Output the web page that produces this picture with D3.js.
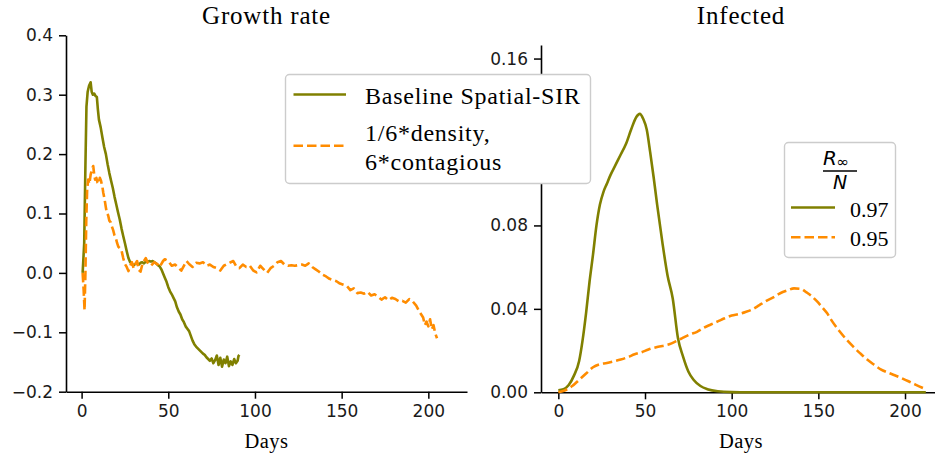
<!DOCTYPE html>
<html><head><meta charset="utf-8">
<script src="https://cdn.jsdelivr.net/npm/d3@7"></script>
<style>
body{margin:0;background:#fff;}
svg{display:block;}
</style></head>
<body>
<svg id="chart" width="935" height="456"></svg>
<script>
// ---------- data ----------
const growthBaselineDays = [0.6,1.5,2.2,2.8,3.5,4.3,5.2,5.8,6.5,7.3,8.0,8.8,9.4,10,11,12,13,14,15,16,17,18,19,20,21,22,23,24,25,26,27,28,29,30,31,32,33,34,35,36,37,38,39,40,41,42,43,44,45,46,47,48,49,50,51,52,53,54,55,56,57,58,59,60,61,62,63,64,65,66,67,68,69,70,71,72,73,74,75,76,77,78,79,80,81,82,83,84,85,86,87,88,89,90,90.5,91];
const growthBaseline = [0.0,0.05,0.18,0.28,0.305,0.315,0.321,0.305,0.30,0.302,0.298,0.296,0.275,0.258,0.245,0.228,0.212,0.2,0.183,0.168,0.155,0.143,0.128,0.115,0.102,0.09,0.075,0.062,0.05,0.037,0.025,0.018,0.015,0.013,0.015,0.016,0.014,0.017,0.018,0.016,0.019,0.018,0.02,0.019,0.02,0.018,0.016,0.013,0.011,0.006,-0.001,-0.008,-0.015,-0.024,-0.031,-0.036,-0.042,-0.048,-0.058,-0.065,-0.07,-0.078,-0.083,-0.09,-0.094,-0.098,-0.106,-0.114,-0.12,-0.124,-0.127,-0.13,-0.133,-0.136,-0.138,-0.142,-0.145,-0.148,-0.144,-0.152,-0.147,-0.139,-0.155,-0.143,-0.158,-0.146,-0.152,-0.141,-0.157,-0.149,-0.155,-0.145,-0.152,-0.148,-0.14,-0.138];

const growthSparseDays = [0.6,1.2,1.7,2.2,2.7,3.2,3.8,4.5,5.2,6.0,6.7,7.3,7.8,8.5,9.2,9.8,10.5,11.2,12.0,12.5,13.2,14.0,14.6,15.3,16.0,16.8,17.5,18.2,19.0,19.8,20.5,21.2,22,23,24,25,26,27,28,29,30,31,32,33,34,35,36,37,38,39,40,42,44,45,47,48,50,52,54,56,57.5,59,60.5,62,64,66,68,70,72,74,76,78,80,82,84,86,87.5,89,91,93,95,97,99,101,103,105,107,109,111,113,115,117,119,121,123,125,127,129,131,133,135,137,139,141,143,145,147,149,151,153,155,157,159,161,163,165,167,169,171,173,175,177,179,181,183,185,187,189,191,193,195,197,198,199,200,201,202,203,204,205];
const growthSparse = [0.0,-0.03,-0.063,0.0,0.09,0.14,0.157,0.15,0.165,0.175,0.18,0.165,0.157,0.16,0.152,0.15,0.16,0.155,0.145,0.135,0.125,0.11,0.1,0.097,0.088,0.085,0.078,0.072,0.063,0.058,0.05,0.044,0.042,0.038,0.025,0.015,0.01,0.003,0.012,0.018,0.008,0.015,0.02,0.005,0.002,0.014,0.02,0.025,0.018,0.015,0.012,0.018,0.014,0.01,0.02,0.023,0.02,0.012,0.014,0.008,0.004,0.012,0.02,0.015,0.01,0.017,0.016,0.018,0.012,0.014,0.01,0.008,0.004,0.012,0.015,0.018,0.02,0.012,0.008,0.014,0.01,0.012,0.004,0.001,0.012,0.006,0.0,0.008,0.012,0.018,0.02,0.014,0.012,0.013,0.012,0.013,0.014,0.012,0.016,0.01,0.006,0.002,-0.003,-0.006,-0.01,-0.012,-0.014,-0.018,-0.02,-0.022,-0.029,-0.026,-0.034,-0.033,-0.035,-0.032,-0.038,-0.036,-0.04,-0.045,-0.041,-0.046,-0.042,-0.044,-0.048,-0.047,-0.05,-0.044,-0.048,-0.055,-0.066,-0.075,-0.088,-0.082,-0.09,-0.078,-0.095,-0.088,-0.102,-0.11];

const infectedBaselineDays = [0,3,6,9,12,14,16,18,20,22,24,26,28,30,33,36,39,42,45,47,49,51,53,55,57,60,63,66,69,72,75,78,82,86,92,100,110,212];
const infectedBaseline = [0.001,0.0015,0.0035,0.008,0.015,0.025,0.038,0.053,0.066,0.08,0.09,0.096,0.1,0.104,0.109,0.114,0.119,0.126,0.132,0.1335,0.131,0.126,0.115,0.103,0.09,0.072,0.056,0.045,0.026,0.017,0.01,0.006,0.003,0.0015,0.0005,0.0001,0,0];

const infectedSparseDays = [0,4,8,12,16,20,24,28,32,36,40,44,48,52,56,60,64,68,72,76,80,84,88,92,96,100,104,108,112,116,120,124,128,132,136,140,143,146,149,152,155,158,162,166,170,174,178,182,186,190,194,198,202,206,210,212];
const infectedSparse = [0.0,0.001,0.003,0.006,0.009,0.012,0.0135,0.014,0.0148,0.0157,0.0168,0.0182,0.0192,0.0205,0.0215,0.0222,0.023,0.0245,0.0262,0.0278,0.029,0.031,0.0325,0.034,0.0355,0.0368,0.0375,0.0385,0.0398,0.0418,0.0438,0.0455,0.0475,0.0488,0.0498,0.0496,0.048,0.0462,0.0438,0.041,0.038,0.034,0.0295,0.0255,0.022,0.0188,0.0158,0.0133,0.011,0.0095,0.0082,0.0068,0.0053,0.0037,0.0022,0.0015];

const growthTicksX = [0,50,100,150,200];
const growthTicksY = [-0.2,-0.1,0.0,0.1,0.2,0.3,0.4];
const infectedTicksX = [0,50,100,150,200];
const infectedTicksY = [0.00,0.04,0.08,0.12,0.16];

const seriesNames = ["Baseline Spatial-SIR", ["1/6*density,", "6*contagious"]];
const finalRatios = ["0.97", "0.95"];
const colors = ["#808000", "#ff8c00"];

// ---------- drawing ----------
const svg = d3.select("#chart");
const serif = "'Liberation Serif', 'Times New Roman', serif";
const sans = "'DejaVu Sans', sans-serif";
const LW = 2.6;
const DASH = "9.5,4";

function styleAxis(g){
  g.select(".domain").attr("stroke","#000").attr("stroke-width",1.6);
  g.selectAll(".tick line").attr("stroke","#000").attr("stroke-width",1.5);
  g.selectAll(".tick text").attr("font-family",sans).attr("font-size",17).attr("fill","#1a1a1a");
}

// Left panel: growth rate
const xL = d3.scaleLinear().domain([-9, 222.3]).range([66, 467]);
const yL = d3.scaleLinear().domain([-0.2, 0.4]).range([391.7, 35.3]);

const gL = svg.append("g");
gL.append("g").attr("transform","translate(0,391.7)")
  .call(d3.axisBottom(xL).tickValues(growthTicksX).tickSize(7).tickPadding(6).tickSizeOuter(0))
  .call(styleAxis);
gL.append("g").attr("transform","translate(66,0)")
  .call(d3.axisLeft(yL).tickValues(growthTicksY).tickFormat(d3.format(".1f")).tickSize(7).tickPadding(6).tickSizeOuter(0))
  .call(styleAxis);

const lineL = d3.line().x(d=>xL(d[0])).y(d=>yL(d[1]));
gL.append("path").datum(growthBaselineDays.map((d,i)=>[d,growthBaseline[i]]))
  .attr("d",lineL).attr("fill","none").attr("stroke",colors[0]).attr("stroke-width",LW).attr("stroke-linejoin","round");
gL.append("path").datum(growthSparseDays.map((d,i)=>[d,growthSparse[i]]))
  .attr("d",lineL).attr("fill","none").attr("stroke",colors[1]).attr("stroke-width",LW).attr("stroke-dasharray",DASH).attr("stroke-linejoin","round");

gL.append("text").attr("x",266.5).attr("y",24).attr("text-anchor","middle")
  .attr("font-family",serif).attr("font-size",25).attr("letter-spacing",0.8).text("Growth rate");
gL.append("text").attr("x",266.5).attr("y",448.3).attr("text-anchor","middle")
  .attr("font-family",serif).attr("font-size",20.5).attr("letter-spacing",0.5).text("Days");

// Right panel: infected
const xR = d3.scaleLinear().domain([-10, 217.3]).range([541, 935]);
const yR = d3.scaleLinear().domain([0, 0.1665]).range([392.3, 45]);

const gR = svg.append("g");
gR.append("g").attr("transform","translate(0,392.3)")
  .call(d3.axisBottom(xR).tickValues(infectedTicksX).tickSize(7).tickPadding(6).tickSizeOuter(0))
  .call(styleAxis);
gR.append("g").attr("transform","translate(541,0)")
  .call(d3.axisLeft(yR).tickValues(infectedTicksY).tickFormat(d3.format(".2f")).tickSize(7).tickPadding(6).tickSizeOuter(0))
  .call(styleAxis);

const lineR = d3.line().x(d=>xR(d[0])).y(d=>yR(d[1])).curve(d3.curveMonotoneX);
gR.append("path").datum(infectedBaselineDays.map((d,i)=>[d,infectedBaseline[i]]))
  .attr("d",lineR).attr("fill","none").attr("stroke",colors[0]).attr("stroke-width",LW);
gR.append("path").datum(infectedSparseDays.map((d,i)=>[d,infectedSparse[i]]))
  .attr("d",lineR).attr("fill","none").attr("stroke",colors[1]).attr("stroke-width",LW).attr("stroke-dasharray",DASH);

gR.append("text").attr("x",741).attr("y",24).attr("text-anchor","middle")
  .attr("font-family",serif).attr("font-size",25).attr("letter-spacing",0.8).text("Infected");
gR.append("text").attr("x",741).attr("y",448.3).attr("text-anchor","middle")
  .attr("font-family",serif).attr("font-size",20.5).attr("letter-spacing",0.5).text("Days");

// Left legend (drawn on top of right panel)
const lg = svg.append("g");
lg.append("rect").attr("x",285.5).attr("y",74.5).attr("width",305).attr("height",109).attr("rx",4)
  .attr("fill","#fff").attr("stroke","#cccccc").attr("stroke-width",1.4);
lg.append("line").attr("x1",293.5).attr("x2",346).attr("y1",94.5).attr("y2",94.5)
  .attr("stroke",colors[0]).attr("stroke-width",LW);
lg.append("text").attr("x",365).attr("y",104.3).attr("font-family",serif).attr("font-size",24)
  .attr("letter-spacing",0.75).text(seriesNames[0]);
lg.append("line").attr("x1",293.5).attr("x2",346).attr("y1",145.7).attr("y2",145.7)
  .attr("stroke",colors[1]).attr("stroke-width",LW).attr("stroke-dasharray",DASH);
lg.append("text").attr("x",365).attr("y",140.7).attr("font-family",serif).attr("font-size",24)
  .attr("letter-spacing",0.75).text(seriesNames[1][0]);
lg.append("text").attr("x",365).attr("y",169.5).attr("font-family",serif).attr("font-size",24)
  .attr("letter-spacing",0.75).text(seriesNames[1][1]);

// Right legend
const rg = svg.append("g");
rg.append("rect").attr("x",784.5).attr("y",142.5).attr("width",111).attr("height",115).attr("rx",4)
  .attr("fill","#fff").attr("stroke","#cccccc").attr("stroke-width",1.4);
const rt = rg.append("text").attr("x",823).attr("y",165).attr("font-family",sans).attr("font-style","italic").attr("font-size",20);
rt.append("tspan").text("R");
rt.append("tspan").attr("font-style","normal").attr("font-size",15).attr("dy",2).attr("dx",-0.5).text("∞");
rg.append("line").attr("x1",823).attr("x2",857).attr("y1",171).attr("y2",171).attr("stroke","#000").attr("stroke-width",1.6);
rg.append("text").attr("x",840).attr("y",188.8).attr("text-anchor","middle").attr("font-family",sans)
  .attr("font-style","italic").attr("font-size",19).text("N");
rg.append("line").attr("x1",791).attr("x2",835).attr("y1",207.5).attr("y2",207.5)
  .attr("stroke",colors[0]).attr("stroke-width",LW);
rg.append("text").attr("x",850).attr("y",216.8).attr("font-family",serif).attr("font-size",22).text(finalRatios[0]);
rg.append("line").attr("x1",791).attr("x2",835).attr("y1",237.3).attr("y2",237.3)
  .attr("stroke",colors[1]).attr("stroke-width",LW).attr("stroke-dasharray",DASH);
rg.append("text").attr("x",850).attr("y",246.3).attr("font-family",serif).attr("font-size",22).text(finalRatios[1]);
</script>
</body></html>
